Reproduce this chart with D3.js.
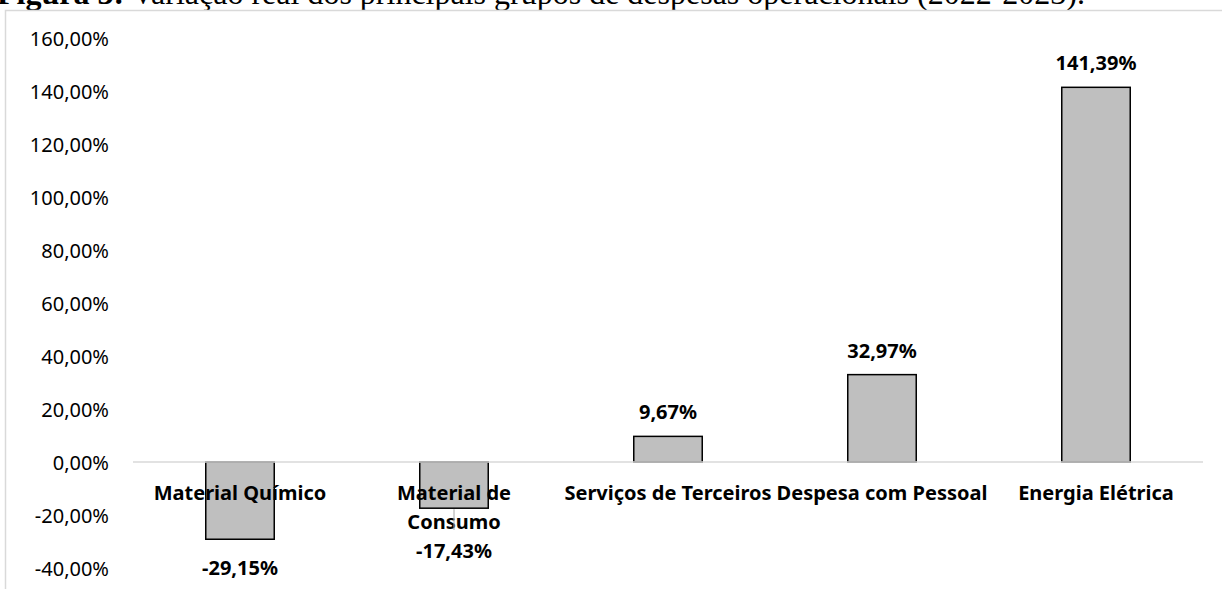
<!DOCTYPE html>
<html>
<head>
<meta charset="utf-8">
<script src="https://cdn.jsdelivr.net/npm/d3@7"></script>
<style>
  body { margin: 0; background: #fff; }
  svg text { font-family: "Noto Sans", "Open Sans", sans-serif; }
</style>
</head>
<body>
<svg id="chart" width="1222" height="589"></svg>
<script>
'use strict'

// categories (line breaks where the original wraps)
const categories = ['Material Químico', 'Material de\nConsumo', 'Serviços de Terceiros', 'Despesa com Pessoal', 'Energia Elétrica'];
// real variation 2022-2023, in percent
const values = [-29.15, -17.43, 9.67, 32.97, 141.39];
const yTicks = [-40, -20, 0, 20, 40, 60, 80, 100, 120, 140, 160];

const plotLeft = 133, plotRight = 1203, plotTop = 38, plotBottom = 568;

const locale = d3.formatLocale({decimal: ',', thousands: '.', grouping: [3], currency: ['R$', ''], minus: '-'});
const fmt = v => locale.format('.2f')(v) + '%';

const svg = d3.select('#chart');

// title, cut at the top like in the page scan
const title = svg.append('text')
  .attr('x', -3)
  .attr('y', 4)
  .style('font-family', '"Liberation Serif", "Times New Roman", serif')
  .style('font-size', '32px')
  .attr('fill', '#000');
title.append('tspan').style('font-weight', 'bold').text('Figura 3:');
title.append('tspan').text(' Variação real dos principais grupos de despesas operacionais (2022-2023).');

// chart area border
svg.append('rect')
  .attr('x', 5.5)
  .attr('y', 10.5)
  .attr('width', 1400)
  .attr('height', 700)
  .attr('fill', 'none')
  .attr('stroke', '#d9d9d9')
  .attr('stroke-width', 1.5);

const x = d3.scaleBand()
  .domain(categories)
  .range([plotLeft, plotRight])
  .paddingInner(0.68)
  .paddingOuter(0.34);

const y = d3.scaleLinear()
  .domain([-40, 160])
  .range([plotBottom, plotTop]);

// y tick labels (no axis line, no gridlines)
const yAxis = svg.append('g')
  .attr('transform', 'translate(' + (plotLeft - 24) + ',0)')
  .call(d3.axisLeft(y).tickValues(yTicks).tickFormat(fmt).tickSize(0).tickPadding(0));
yAxis.select('.domain').remove();
yAxis.selectAll('text')
  .style('font-family', '"Noto Sans", sans-serif')
  .style('font-size', '20px')
  .attr('fill', '#000')
  .attr('dy', '0.36em');

// bars
svg.append('g')
  .selectAll('rect')
  .data(values)
  .enter().append('rect')
    .attr('x', (d, i) => x(categories[i]))
    .attr('y', d => y(Math.max(0, d)))
    .attr('width', x.bandwidth())
    .attr('height', d => Math.abs(y(d) - y(0)))
    .attr('fill', '#bfbfbf')
    .attr('stroke', '#000')
    .attr('stroke-width', 1.5);

// zero line
svg.append('line')
  .attr('x1', plotLeft)
  .attr('x2', plotRight)
  .attr('y1', y(0))
  .attr('y2', y(0))
  .attr('stroke', '#d9d9d9')
  .attr('stroke-width', 1.5);

// category labels, drawn over the bars
const lineH = 29;
const catY = y(0) + 38;
const cats = svg.append('g')
  .selectAll('text')
  .data(categories)
  .enter().append('text')
    .attr('text-anchor', 'middle')
    .style('font-size', '20px')
    .style('font-weight', 'bold')
    .attr('fill', '#000');
cats.each(function (c) {
  const lines = c.split('\n');
  const t = d3.select(this);
  lines.forEach((l, k) => {
    t.append('tspan')
      .attr('x', x(c) + x.bandwidth() / 2)
      .attr('y', catY + k * lineH)
      .text(l);
  });
});

// data labels: above positive bars, below negative ones (pushed under a wrapped category label)
values.forEach((v, i) => {
  const cx = x(categories[i]) + x.bandwidth() / 2;
  let ly;
  let leader = false;
  if (v >= 0) {
    ly = y(v) - 17;
  } else {
    const nLines = categories[i].split('\n').length;
    const natural = y(v) + 36;
    const under = catY + nLines * lineH;
    ly = Math.max(natural, under);
    leader = ly > natural;
  }
  if (leader) {
    svg.append('line')
      .attr('x1', cx).attr('x2', cx)
      .attr('y1', y(v) + 1).attr('y2', ly - 28)
      .attr('stroke', '#a6a6a6')
      .attr('stroke-width', 1);
  }
  svg.append('text')
    .attr('x', cx)
    .attr('y', ly)
    .attr('text-anchor', 'middle')
    .style('font-size', '20px')
    .style('font-weight', 'bold')
    .attr('fill', '#000')
    .text(fmt(v));
});
</script>
</body>
</html>
